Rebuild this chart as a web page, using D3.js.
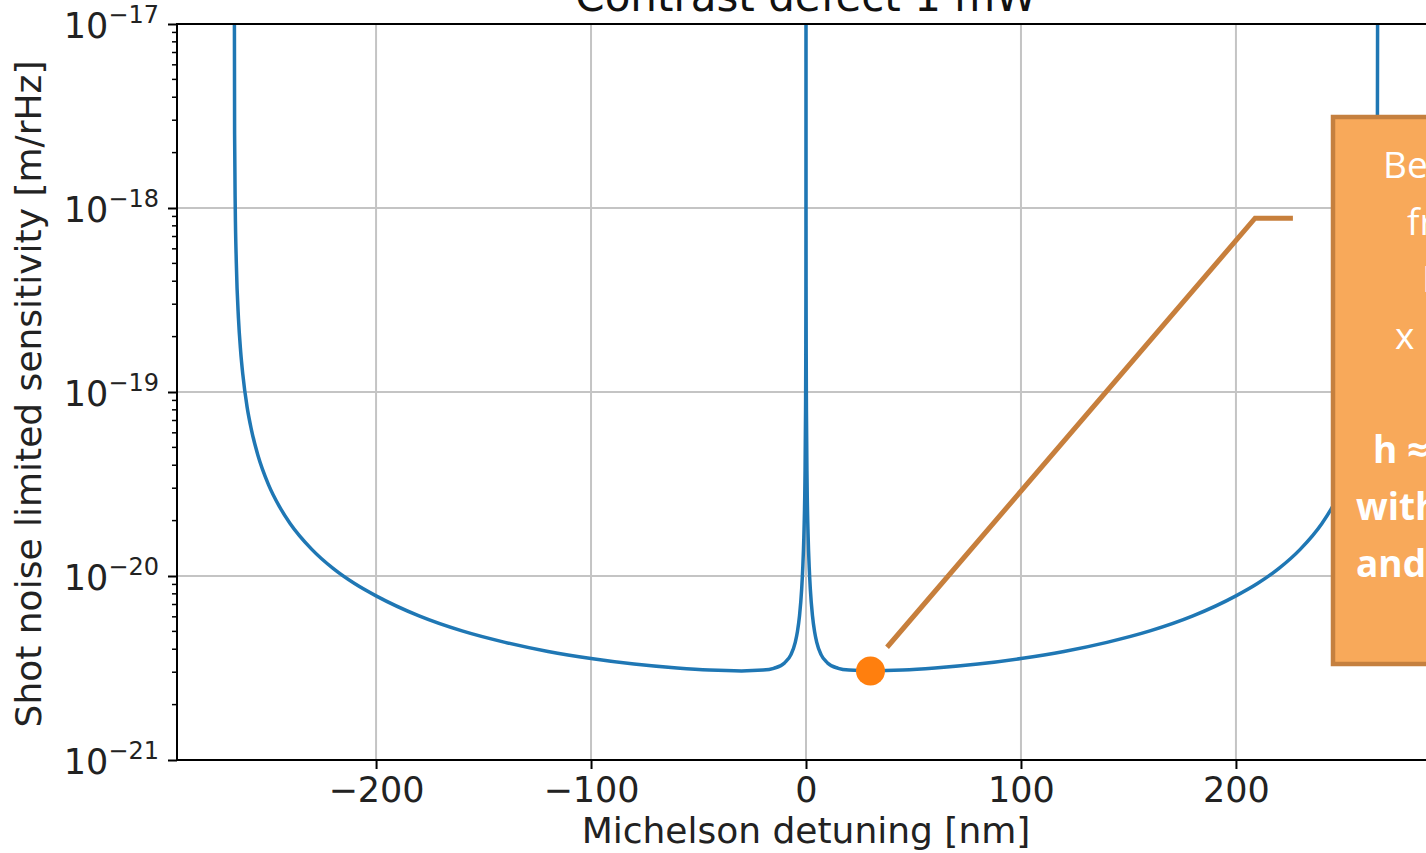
<!DOCTYPE html>
<html>
<head>
<meta charset="utf-8">
<script src="https://cdn.jsdelivr.net/npm/d3@7"></script>
<style>
  body { margin: 0; background: #ffffff; overflow: hidden; }
  svg { display: block; }
</style>
</head>
<body>
<svg id="chart" width="1426" height="853"></svg>
<script>
// detuning of the Michelson [nm] and shot noise limited sensitivity [m/rHz]
let detuning = [
    -266, -265.8, -265.5, -265, -264, -263, -262, -260, -258, -255, -250, -245, -240,
    -230, -220, -210, -200, -180, -160, -140, -120, -100, -80, -60, -45, -30, -20, -15,
    -10, -7, -5, -4, -3, -2, -1.5, -1, -0.5, -0.2, -0.1, -0.05, -0.02,
    0,
    0.02, 0.05, 0.1, 0.2, 0.5, 1, 1.5, 2, 3, 4, 5, 7, 10,
    15, 20, 30, 45, 60, 80, 100, 120, 140, 160, 180, 200, 210, 220, 230,
    240, 245, 250, 255, 258, 260, 262, 263, 264, 265, 265.5, 265.8, 266
];
let sensitivity = [
    5e-17, 2.5e-18, 1.0e-18, 5.0e-19, 2.5e-19, 1.67e-19, 1.25e-19, 8.3e-20, 6.25e-20, 4.55e-20, 3.13e-20, 2.39e-20, 1.93e-20,
    1.40e-20, 1.10e-20, 9.1e-21, 7.8e-21, 6.07e-21, 5.03e-21, 4.36e-21, 3.89e-21, 3.56e-21, 3.32e-21, 3.16e-21, 3.08e-21, 3.05e-21, 3.08e-21, 3.15e-21,
    3.37e-21, 3.74e-21, 4.36e-21, 4.98e-21, 6.1e-21, 8.54e-21, 1.11e-20, 1.63e-20, 3.22e-20, 8.0e-20, 1.6e-19, 3.2e-19, 8.0e-19,
    5e-17,
    8.0e-19, 3.2e-19, 1.6e-19, 8.0e-20, 3.22e-20, 1.63e-20, 1.11e-20, 8.54e-21, 6.1e-21, 4.98e-21, 4.36e-21, 3.74e-21, 3.37e-21,
    3.15e-21, 3.08e-21, 3.05e-21, 3.08e-21, 3.16e-21, 3.32e-21, 3.56e-21, 3.89e-21, 4.36e-21, 5.03e-21, 6.07e-21, 7.8e-21, 9.1e-21, 1.10e-20, 1.40e-20,
    1.93e-20, 2.39e-20, 3.13e-20, 4.55e-20, 6.25e-20, 8.3e-20, 1.25e-19, 1.67e-19, 2.5e-19, 5.0e-19, 1.0e-18, 2.5e-18, 5e-17
];

// best working point marked with the orange dot
let best_point = [30, 3.05e-21];

// tick labels
let x_ticks = [-200, -100, 0, 100, 200];
let y_exponents = [-21, -20, -19, -18, -17];

// annotation (partly outside the slide)
let note_lines = ["Be", "fr", "I", "x", "", "h ≈", "with", "and"];

function load_chart(svg_name){
    let chart = d3.select(svg_name);

    // plot area
    let left = 177, right = 1435, top = 24, bottom = 760;

    let x = d3.scaleLinear()
        .domain([-292.6, 292.6])
        .range([left, right]);

    let y = d3.scaleLog()
        .domain([1e-21, 1e-17])
        .range([bottom, top]);

    let font = "DejaVu Sans, Verdana, sans-serif";

    // grid
    chart.append("g")
        .selectAll("line")
        .data(x_ticks)
        .enter()
        .append("line")
        .attr("x1", d => x(d))
        .attr("x2", d => x(d))
        .attr("y1", top)
        .attr("y2", bottom)
        .attr("stroke", "#c4c4c4")
        .attr("stroke-width", 2);

    chart.append("g")
        .selectAll("line")
        .data(y_exponents)
        .enter()
        .append("line")
        .attr("x1", left)
        .attr("x2", right)
        .attr("y1", d => y(Math.pow(10, d)))
        .attr("y2", d => y(Math.pow(10, d)))
        .attr("stroke", "#c4c4c4")
        .attr("stroke-width", 2);

    // clip for the curve
    chart.append("defs")
        .append("clipPath")
        .attr("id", "plot-clip")
        .append("rect")
        .attr("x", left)
        .attr("y", top)
        .attr("width", right - left)
        .attr("height", bottom - top);

    // sensitivity curve
    let points = detuning.map((d, i) => [d, sensitivity[i]]);
    chart.append("path")
        .datum(points)
        .attr("clip-path", "url(#plot-clip)")
        .attr("fill", "none")
        .attr("stroke", "#1f77b4")
        .attr("stroke-width", 3.5)
        .attr("d", d3.line()
            .x(d => x(d[0]))
            .y(d => y(d[1]))
            .curve(d3.curveMonotoneX)
        );

    // x axis
    let xAxis = d3.axisBottom(x)
        .tickValues(x_ticks)
        .tickSize(9)
        .tickPadding(6)
        .tickFormat(d => d3.format("d")(d).replace("-", "\u2212"));
    let xAxisGroup = chart.append("g")
        .attr("transform", "translate(0," + bottom + ")")
        .call(xAxis);
    xAxisGroup.select(".domain").remove();
    xAxisGroup.selectAll(".tick line").attr("stroke", "#000").attr("stroke-width", 2);
    xAxisGroup.selectAll("text")
        .attr("dy", null)
        .attr("y", 42)
        .style("font-family", font)
        .style("font-size", "35px")
        .style("fill", "#222");

    // y axis, major ticks
    let yAxis = d3.axisLeft(y)
        .tickValues(y_exponents.map(e => Math.pow(10, e)))
        .tickSize(9)
        .tickFormat("");
    let yAxisGroup = chart.append("g")
        .attr("transform", "translate(" + left + ",0)")
        .call(yAxis);
    yAxisGroup.select(".domain").remove();
    yAxisGroup.selectAll(".tick line").attr("stroke", "#000").attr("stroke-width", 2);

    // y axis, minor ticks
    let minor = [];
    y_exponents.slice(0, -1).forEach(function(e){
        for (let k = 2; k < 10; k++) minor.push(k * Math.pow(10, e));
    });
    chart.append("g")
        .selectAll("line")
        .data(minor)
        .enter()
        .append("line")
        .attr("x1", left - 5)
        .attr("x2", left)
        .attr("y1", d => y(d))
        .attr("y2", d => y(d))
        .attr("stroke", "#000")
        .attr("stroke-width", 1.5);

    // y tick labels 10^n
    let ylabels = chart.append("g")
        .selectAll("text")
        .data(y_exponents)
        .enter()
        .append("text")
        .attr("x", 159)
        .attr("y", d => y(Math.pow(10, d)) + 14)
        .attr("text-anchor", "end")
        .style("font-family", font)
        .style("fill", "#222");
    ylabels.append("tspan")
        .style("font-size", "35px")
        .text("10");
    ylabels.append("tspan")
        .attr("dy", -15)
        .style("font-size", "24px")
        .text(d => "\u2212" + Math.abs(d));

    // spines
    chart.append("rect")
        .attr("x", left)
        .attr("y", top)
        .attr("width", right - left)
        .attr("height", bottom - top)
        .attr("fill", "none")
        .attr("stroke", "#000")
        .attr("stroke-width", 2);

    // titles
    chart.append("text")
        .text("Contrast defect 1 mW")
        .attr("x", x(0))
        .attr("y", 11)
        .style("text-anchor", "middle")
        .style("font-family", font)
        .style("font-size", "42px")
        .style("fill", "#111");

    chart.append("text")
        .text("Michelson detuning [nm]")
        .attr("x", x(0))
        .attr("y", 843)
        .style("text-anchor", "middle")
        .style("font-family", font)
        .style("font-size", "36px")
        .style("fill", "#222");

    chart.append("text")
        .text("Shot noise limited sensitivity [m/rHz]")
        .attr("transform", "translate(41," + ((top + bottom) / 2 + 2) + ") rotate(-90)")
        .style("text-anchor", "middle")
        .style("font-family", font)
        .style("font-size", "36px")
        .style("fill", "#222");

    // leader line from the best point to the note
    let leader = [[37.7, 4.1e-21], [208.9, 8.8e-19], [226.5, 8.8e-19]];
    chart.append("path")
        .datum(leader)
        .attr("fill", "none")
        .attr("stroke", "#c77f3c")
        .attr("stroke-width", 5)
        .attr("d", d3.line()
            .x(d => x(d[0]))
            .y(d => y(d[1]))
        );

    // best point
    chart.append("circle")
        .attr("cx", x(best_point[0]))
        .attr("cy", y(best_point[1]))
        .attr("r", 14.5)
        .attr("fill", "#ff7f0e");

    // note box
    chart.append("rect")
        .attr("x", 1333)
        .attr("y", 117)
        .attr("width", 140)
        .attr("height", 547)
        .attr("fill", "#f8a95a")
        .attr("stroke", "#c5803f")
        .attr("stroke-width", 4.5);

    let note_x = [1383, 1407, 1422, 1395, 1395, 1373, 1356, 1356];
    chart.append("g")
        .selectAll("text")
        .data(note_lines)
        .enter()
        .append("text")
        .attr("x", (d, i) => note_x[i])
        .attr("y", (d, i) => 178 + i * 57)
        .attr("font-weight", (d, i) => i >= 5 ? 700 : 400)
        .style("font-family", "Open Sans, Lato, sans-serif")
        .style("font-size", "37px")
        .style("fill", "#ffffff")
        .text(d => d);

    return {
        chart : chart,
        x_scale : x,
        y_scale : y
    };
}

load_chart("#chart");
</script>
</body>
</html>
